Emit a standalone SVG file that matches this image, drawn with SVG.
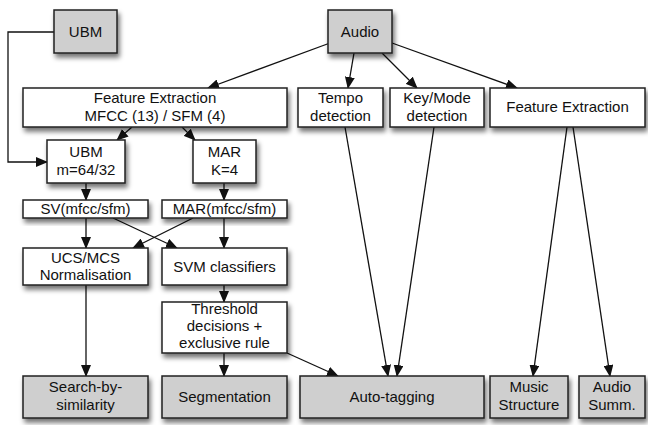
<svg xmlns="http://www.w3.org/2000/svg" width="648" height="425" viewBox="0 0 648 425">
<style>
.b{fill:#fff;stroke:#222;stroke-width:1.5;filter:url(#sh)}
.g{fill:#cfcfcf;stroke:#222;stroke-width:1.5;filter:url(#sh)}
text{font-family:"Liberation Sans",Arial,sans-serif;font-size:15px;fill:#111;text-anchor:middle}
.c{fill:none;stroke:#111;stroke-width:1.3;marker-end:url(#ah)}
.n{fill:none;stroke:#111;stroke-width:1.3}
</style>
<defs>
<filter id="sh" x="-20%" y="-20%" width="140%" height="160%">
<feGaussianBlur in="SourceAlpha" stdDeviation="2.5"/>
<feOffset dx="2" dy="4" result="o"/>
<feComponentTransfer><feFuncA type="linear" slope="0.55"/></feComponentTransfer>
<feMerge><feMergeNode/><feMergeNode in="SourceGraphic"/></feMerge>
</filter>
<marker id="ah" markerWidth="12" markerHeight="10" refX="11" refY="5" orient="auto" markerUnits="userSpaceOnUse">
<path d="M0,0 L12,5 L0,10 Z" fill="#111"/>
</marker>
</defs>
<g id="connectors">
<polyline class="c" points="54,32 8,32 8,162 47,162"/>
<line class="c" x1="330" y1="43" x2="208" y2="88"/>
<line class="c" x1="354" y1="53" x2="348" y2="88"/>
<line class="c" x1="382" y1="53" x2="417" y2="88"/>
<line class="c" x1="392" y1="43" x2="517" y2="88"/>
<line class="c" x1="132" y1="127" x2="117" y2="140"/>
<line class="c" x1="182" y1="127" x2="195" y2="140"/>
<line class="c" x1="86" y1="183" x2="86" y2="200"/>
<line class="c" x1="224" y1="183" x2="224" y2="200"/>
<line class="c" x1="86" y1="218" x2="86" y2="248"/>
<line class="c" x1="113" y1="218" x2="177" y2="248"/>
<line class="c" x1="193" y1="218" x2="133" y2="248"/>
<line class="c" x1="224" y1="218" x2="224" y2="248"/>
<line class="c" x1="224" y1="285" x2="224" y2="302"/>
<line class="c" x1="86" y1="285" x2="86" y2="376"/>
<line class="c" x1="224" y1="353" x2="224" y2="376"/>
<line class="c" x1="287" y1="353" x2="338" y2="376"/>
<line class="c" x1="345" y1="127" x2="388" y2="376"/>
<line class="c" x1="434" y1="127" x2="397" y2="376"/>
<line class="c" x1="567" y1="127" x2="533" y2="376"/>
<line class="c" x1="573" y1="127" x2="610" y2="376"/>
</g>
<g id="ubm"><rect class="g" x="54" y="10" width="63" height="43"/><text x="85.5" y="37">UBM</text></g>
<g id="audio"><rect class="g" x="328" y="10" width="64" height="43"/><text x="360" y="37">Audio</text></g>
<g id="fe-left"><rect class="b" x="23" y="88" width="264" height="39"/><text x="155" y="103">Feature Extraction</text><text x="155" y="121">MFCC (13) / SFM (4)</text></g>
<g id="tempo"><rect class="b" x="298" y="88" width="85" height="39"/><text x="340.5" y="103">Tempo</text><text x="340.5" y="121">detection</text></g>
<g id="keymode"><rect class="b" x="390" y="88" width="94" height="39"/><text x="437" y="103">Key/Mode</text><text x="437" y="121">detection</text></g>
<g id="fe-right"><rect class="b" x="490" y="88" width="155" height="39"/><text x="567.5" y="112">Feature Extraction</text></g>
<g id="ubm-m"><rect class="b" x="47" y="140" width="78" height="43"/><text x="86" y="157">UBM</text><text x="86" y="175">m=64/32</text></g>
<g id="mar"><rect class="b" x="193" y="140" width="63" height="43"/><text x="224.5" y="157">MAR</text><text x="224.5" y="175">K=4</text></g>
<g id="sv"><rect class="b" x="23" y="200" width="125" height="18"/><text x="85.5" y="214">SV(mfcc/sfm)</text></g>
<g id="marmf"><rect class="b" x="162" y="200" width="125" height="18"/><text x="224.5" y="214">MAR(mfcc/sfm)</text></g>
<g id="ucs"><rect class="b" x="23" y="248" width="125" height="37"/><text x="85.5" y="263">UCS/MCS</text><text x="85.5" y="280">Normalisation</text></g>
<g id="svm"><rect class="b" x="162" y="248" width="125" height="37"/><text x="224.5" y="272">SVM classifiers</text></g>
<g id="threshold"><rect class="b" x="162" y="302" width="125" height="51"/><text x="224.5" y="314">Threshold</text><text x="224.5" y="331">decisions +</text><text x="224.5" y="348">exclusive rule</text></g>
<g id="search"><rect class="g" x="23" y="376" width="125" height="42"/><text x="85.5" y="392">Search-by-</text><text x="85.5" y="410">similarity</text></g>
<g id="segmentation"><rect class="g" x="162" y="376" width="125" height="42"/><text x="224.5" y="402">Segmentation</text></g>
<g id="autotagging"><rect class="g" x="300" y="376" width="184" height="42"/><text x="392" y="402">Auto-tagging</text></g>
<g id="music"><rect class="g" x="490" y="376" width="78" height="42"/><text x="529" y="392">Music</text><text x="529" y="410">Structure</text></g>
<g id="summ"><rect class="g" x="579" y="376" width="66" height="42"/><text x="612" y="392">Audio</text><text x="612" y="410">Summ.</text></g>
</svg>
